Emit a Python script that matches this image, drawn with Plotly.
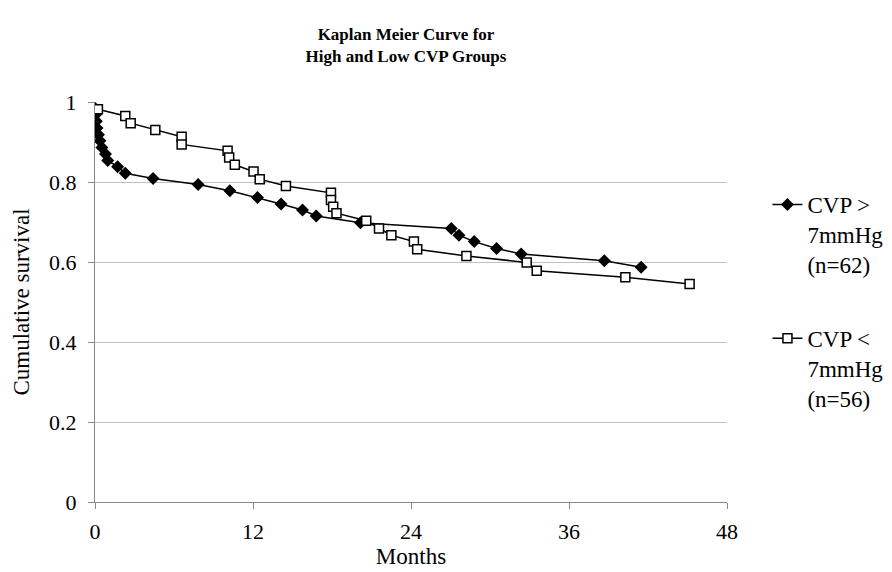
import plotly.graph_objects as go

# CVP > 7mmHg (n=62)
high_months = [0.02, 0.05, 0.1, 0.15, 0.26, 0.37, 0.52, 0.8, 0.97, 1.72, 2.30, 4.41, 7.83,
               10.24, 12.34, 14.13, 15.76, 16.8, 20.16, 27.06, 27.64, 28.8, 30.5, 32.37,
               38.68, 41.48]
high_surv = [0.984, 0.968, 0.952, 0.935, 0.918, 0.903, 0.886, 0.870, 0.854, 0.838, 0.822,
             0.809, 0.794, 0.778, 0.761, 0.745, 0.730, 0.715, 0.698, 0.684, 0.667, 0.651,
             0.634, 0.620, 0.603, 0.587]

# CVP < 7mmHg (n=56)
low_months = [0.22, 2.30, 2.71, 4.58, 6.58, 6.58, 10.07, 10.19, 10.62, 12.04, 12.51, 14.50,
              17.92, 17.92, 18.09, 18.34, 20.60, 21.57, 22.51, 24.22, 24.47, 28.21, 32.79,
              33.55, 40.28, 45.16]
low_surv = [0.982, 0.965, 0.947, 0.930, 0.913, 0.894, 0.878, 0.861, 0.843, 0.826, 0.807,
            0.790, 0.773, 0.755, 0.738, 0.722, 0.703, 0.684, 0.667, 0.651, 0.632, 0.615,
            0.599, 0.578, 0.562, 0.545]

x_ticks = [0, 12, 24, 36, 48]
y_ticks = [0, 0.2, 0.4, 0.6, 0.8, 1]
y_tick_labels = ["0", "0.2", "0.4", "0.6", "0.8", "1"]

FONT = "Liberation Serif"

fig = go.Figure()
fig.add_trace(go.Scatter(
    x=high_months, y=high_surv, mode="lines+markers",
    name="CVP ><br>7mmHg<br>(n=62)", legendgroup="high",
    line=dict(color="black", width=1.5),
    marker=dict(symbol="diamond", size=10, color="black"),
))
fig.add_trace(go.Scatter(
    x=low_months, y=low_surv, mode="lines+markers",
    name="CVP <<br>7mmHg<br>(n=56)", legendgroup="low",
    line=dict(color="black", width=1.5),
    marker=dict(symbol="square", size=9, color="white", line=dict(color="black", width=1.5)),
))

fig.update_layout(
    width=892, height=572,
    paper_bgcolor="white", plot_bgcolor="white",
    font=dict(family=FONT, size=22, color="black"),
    margin=dict(l=84, r=166, t=94, b=78),
    title=dict(text="<b>Kaplan Meier Curve for<br>High and Low CVP Groups</b>",
               x=398 / 892, xanchor="center",
               y=0.944, yanchor="top", font=dict(size=17, family=FONT)),
    legend=dict(x=1.064, y=0.7975, xanchor="left", yanchor="top",
                font=dict(size=23, family=FONT), valign="top",
                tracegroupgap=41, itemwidth=30, bgcolor="rgba(0,0,0,0)"),
    showlegend=True,
)
fig.update_xaxes(range=[0, 48], tickvals=x_ticks, ticks="outside", ticklen=6,
                 tickcolor="#888", showline=True, linecolor="#888", linewidth=1,
                 showgrid=False, zeroline=False, tickfont=dict(size=22, family=FONT),
                 ticklabelstandoff=4,
                 title=dict(text="Months", font=dict(size=23, family=FONT), standoff=4))
fig.update_yaxes(range=[0, 1], tickvals=y_ticks, ticktext=y_tick_labels, ticks="outside",
                 ticklen=6, tickcolor="#888", showline=True, linecolor="#888", linewidth=1,
                 showgrid=True, gridcolor="#c0c0c0", gridwidth=1, zeroline=False,
                 tickfont=dict(size=22, family=FONT), ticklabelstandoff=7,
                 title=dict(text="Cumulative survival", font=dict(size=23, family=FONT), standoff=13))

fig.write_html("out.html")
